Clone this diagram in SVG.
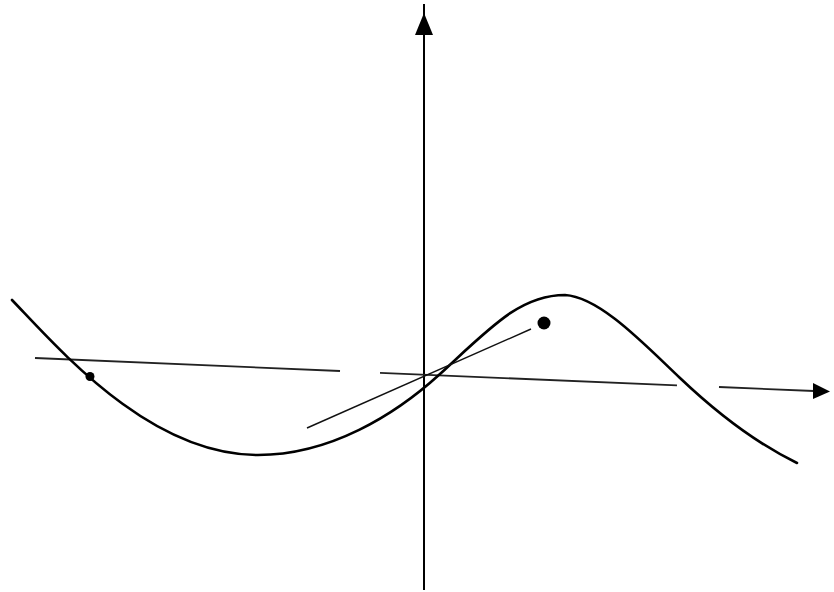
<svg xmlns="http://www.w3.org/2000/svg" width="834" height="592" viewBox="0 0 834 592">
<style>
.axis{stroke:#000;stroke-width:2;fill:none}
.xaxis{stroke:#222;stroke-width:1.8;fill:none}
.curve{stroke:#000;stroke-width:2.6;fill:none;stroke-linecap:round}
.tangent{stroke:#111;stroke-width:1.4;fill:none}
.head{fill:#000}
</style>
<rect width="834" height="592" fill="#fff"/>
<g id="connectors">
<g id="y-axis">
<line class="axis" x1="424" y1="4" x2="424" y2="590"/>
<polygon class="head" points="424,13 415,35 433,35"/>
</g>
<g id="x-axis">
<line class="xaxis" x1="35" y1="358" x2="340" y2="371"/>
<line class="xaxis" x1="380" y1="372.9" x2="677" y2="385.3"/>
<line class="xaxis" x1="719" y1="387" x2="814" y2="391"/>
<polygon class="head" points="813,383 830,391.5 813,399"/>
</g>
</g>
<g id="curve">
<path class="curve" d="M12,300 C60,350 150,455 258,455 C330,455 395,415 440,374 C490,328 520,295 565,295 C600,297 645,345 680,378 C720,416 760,445 797,463"/>
</g>
<g id="tangent">
<line class="tangent" x1="307" y1="428" x2="531" y2="329"/>
</g>
<g id="point-a">
<circle cx="90" cy="376.5" r="4.5" fill="#000"/>
</g>
<g id="point-b">
<circle cx="544" cy="323" r="6.5" fill="#000"/>
</g>
</svg>
